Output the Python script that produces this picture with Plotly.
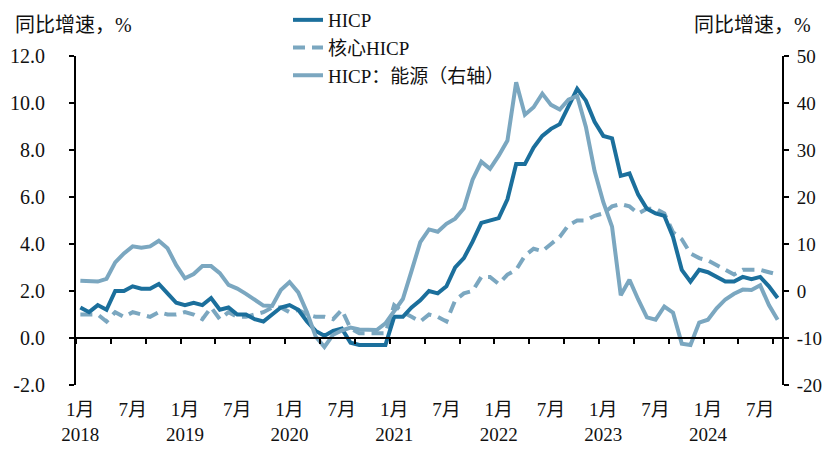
import plotly.graph_objects as go

# Monthly data, Jan 2018 - Sep 2024
years = [2018, 2019, 2020, 2021, 2022, 2023, 2024]
hicp = [1.3, 1.1, 1.4, 1.2, 2.0, 2.0, 2.2, 2.1, 2.1, 2.3, 1.9, 1.5,
        1.4, 1.5, 1.4, 1.7, 1.2, 1.3, 1.0, 1.0, 0.8, 0.7, 1.0, 1.3,
        1.4, 1.2, 0.7, 0.3, 0.1, 0.3, 0.4, -0.2, -0.3, -0.3, -0.3, -0.3,
        0.9, 0.9, 1.3, 1.6, 2.0, 1.9, 2.2, 3.0, 3.4, 4.1, 4.9, 5.0,
        5.1, 5.9, 7.4, 7.4, 8.1, 8.6, 8.9, 9.1, 9.9, 10.6, 10.1, 9.2,
        8.6, 8.5, 6.9, 7.0, 6.1, 5.5, 5.3, 5.2, 4.3, 2.9, 2.4, 2.9,
        2.8, 2.6, 2.4, 2.4, 2.6, 2.5, 2.6, 2.2, 1.7]
core = [1.0, 1.0, 1.0, 0.7, 1.1, 0.9, 1.1, 1.0, 0.9, 1.1, 1.0, 1.0,
        1.1, 1.0, 0.8, 1.3, 0.8, 1.1, 0.9, 0.9, 1.0, 1.1, 1.3, 1.3,
        1.1, 1.2, 1.0, 0.9, 0.9, 0.8, 1.2, 0.4, 0.2, 0.2, 0.2, 0.2,
        1.4, 1.1, 0.9, 0.7, 1.0, 0.9, 0.7, 1.6, 1.9, 2.0, 2.6, 2.6,
        2.3, 2.7, 2.9, 3.5, 3.8, 3.7, 4.0, 4.3, 4.8, 5.0, 5.0, 5.2,
        5.3, 5.6, 5.7, 5.6, 5.3, 5.5, 5.5, 5.3, 4.5, 4.2, 3.6, 3.4,
        3.3, 3.1, 2.9, 2.7, 2.9, 2.9, 2.9, 2.8, 2.7]
energy = [2.2, 2.1, 2.0, 2.6, 6.1, 8.0, 9.5, 9.2, 9.5, 10.7, 9.1, 5.5,
          2.7, 3.6, 5.3, 5.3, 3.8, 1.3, 0.5, -0.6, -1.8, -3.1, -3.2, 0.2,
          1.9, -0.3, -4.5, -9.7, -11.9, -9.3, -8.4, -7.8, -8.2, -8.2, -8.3, -6.9,
          -4.2, -1.7, 4.3, 10.4, 13.1, 12.6, 14.3, 15.4, 17.6, 23.7, 27.5, 26.0,
          28.8, 32.0, 44.4, 37.5, 39.1, 42.0, 39.6, 38.6, 40.7, 41.5, 34.9, 25.5,
          18.9, 13.7, -0.9, 2.4, -1.8, -5.6, -6.1, -3.3, -4.6, -11.2, -11.5, -6.7,
          -6.1, -3.7, -1.8, -0.6, 0.3, 0.2, 1.2, -3.0, -6.1]

left_ticks = [-2, 0, 2, 4, 6, 8, 10, 12]
left_labels = ["-2.0", "0.0", "2.0", "4.0", "6.0", "8.0", "10.0", "12.0"]
right_ticks = [-20, -10, 0, 10, 20, 30, 40, 50]
right_labels = ["-20", "-10", "0", "10", "20", "30", "40", "50"]

n = len(hicp)
x = list(range(n))
label_vals = list(range(0, n, 6))
label_text = [("1月<br>" + str(years[i // 12])) if i % 12 == 0 else "7月" for i in label_vals]
tick_vals = [k - 0.5 for k in range(0, n, 4)]

DARK = "#1B6F9C"
LIGHT = "#7BA7C0"
FONT = "Liberation Serif, Noto Sans CJK SC, serif"

fig = go.Figure()
fig.add_trace(go.Scatter(x=x, y=energy, name="HICP：能源（右轴）", yaxis="y2", mode="lines",
                         line=dict(color=LIGHT, width=4), legendrank=3))
fig.add_trace(go.Scatter(x=x, y=core, name="核心HICP", mode="lines",
                         line=dict(color=LIGHT, width=4, dash="12px,7px"), legendrank=2))
fig.add_trace(go.Scatter(x=x, y=hicp, name="HICP", mode="lines",
                         line=dict(color=DARK, width=4), legendrank=1))
# invisible trace on xaxis2 so the tick-mark axis is rendered
fig.add_trace(go.Scatter(x=[x[0]], y=[hicp[0]], xaxis="x2", mode="lines", showlegend=False,
                         hoverinfo="skip", line=dict(color="rgba(0,0,0,0)")))

# page body has an 8px margin, so the figure is sized/offset to compensate
fig.update_layout(
    width=819, height=437,
    margin=dict(l=68, r=45, t=48, b=60, autoexpand=False),
    paper_bgcolor="white", plot_bgcolor="white",
    font=dict(family=FONT, size=20, color="#111111"),
    showlegend=True,
    legend=dict(x=(288 - 76) / 706, y=1 + (56 - 1) / 329, xanchor="left", yanchor="top",
                bgcolor="rgba(0,0,0,0)", font=dict(size=19), tracegroupgap=0),
    xaxis=dict(range=[-0.5, n - 0.5], tickvals=label_vals, ticktext=label_text,
               showline=False, showgrid=False, zeroline=False, ticks="", automargin=False,
               ticklabelstandoff=11, tickfont=dict(size=19)),
    xaxis2=dict(range=[-0.5, n - 0.5], overlaying="x", anchor="free", position=2 / 14,
                tickvals=tick_vals, showticklabels=False, ticks="outside", ticklen=5,
                tickwidth=2, tickcolor="black", showline=True, linecolor="black",
                linewidth=2, showgrid=False, zeroline=False, automargin=False),
    yaxis=dict(range=[-2, 12], tickvals=left_ticks, ticktext=left_labels,
               showline=True, linecolor="black", linewidth=2, ticks="outside", ticklen=5,
               tickwidth=2, tickcolor="black", showgrid=False, zeroline=False,
               ticklabelstandoff=20, automargin=False),
    yaxis2=dict(range=[-20, 50], tickvals=right_ticks, ticktext=right_labels, overlaying="y",
                side="right", showline=True, linecolor="black", linewidth=2, ticks="outside",
                ticklen=5, tickwidth=2, tickcolor="black", showgrid=False, zeroline=False,
                ticklabelstandoff=4, tickfont=dict(size=19), automargin=False),
    annotations=[
        dict(text="同比增速，%", xref="paper", yref="paper", x=(13 - 76) / 706,
             y=1 + (56 - 25) / 329, xanchor="left", yanchor="middle", showarrow=False,
             font=dict(size=20)),
        dict(text="同比增速，%", xref="paper", yref="paper", x=(813 - 76) / 706,
             y=1 + (56 - 25) / 329, xanchor="right", yanchor="middle", showarrow=False,
             font=dict(size=20)),
    ],
)

fig.write_html("out.html")
